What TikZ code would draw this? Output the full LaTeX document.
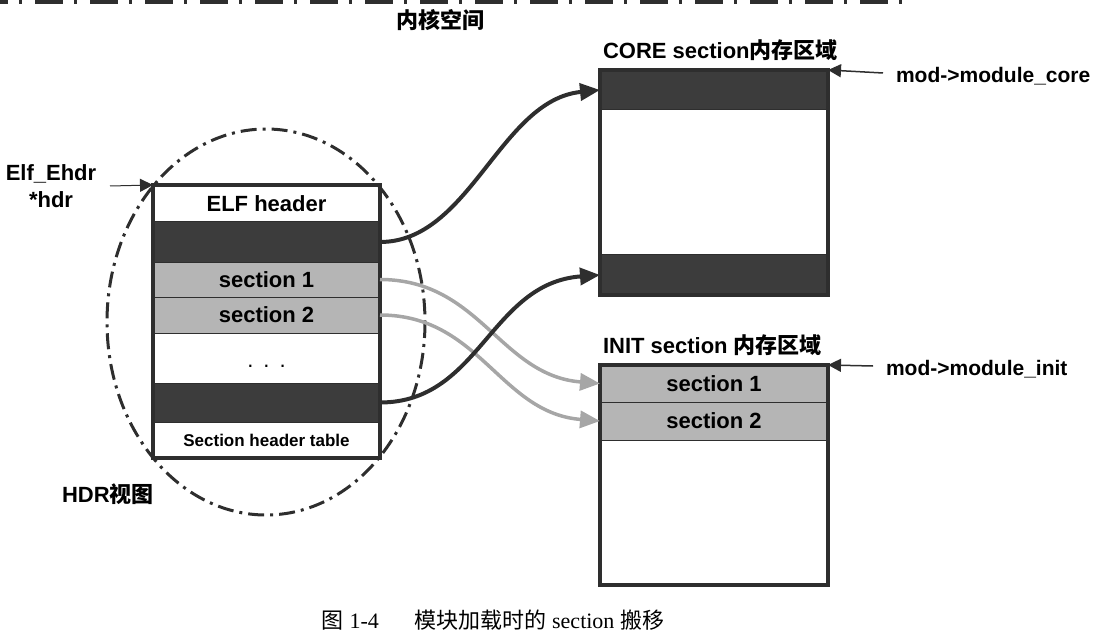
\documentclass[tikz,border=0pt]{standalone}
\usepackage{fontspec}
\setmainfont{Liberation Sans}
\newfontfamily\cjk{Noto Sans CJK SC}
\newfontfamily\capfont{Liberation Serif}
\usetikzlibrary{positioning,arrows.meta}
\definecolor{darkband}{HTML}{3C3C3C}
\definecolor{lightband}{HTML}{B5B5B5}
\definecolor{edgegray}{HTML}{2E2E2E}
\definecolor{movegray}{HTML}{A6A6A6}

\begin{document}
\begin{tikzpicture}[x=1pt, y=-1pt, >={Triangle[length=20pt,width=17pt]}, line width=1pt,
                    node distance=0pt, style={inner sep=0pt, outer sep=0pt}]
\tikzstyle{every node}=[font=\fontsize{22}{27}\selectfont\bfseries]
\tikzstyle{hdrrow}=[draw=edgegray, fill=white, minimum width=227pt]
\tikzstyle{darkrow}=[hdrrow, fill=darkband]
\tikzstyle{greyrow}=[hdrrow, fill=lightband]
\tikzstyle{boxframe}=[draw=edgegray, line width=4pt]
\tikzstyle{movearrow}=[->, line width=4pt, draw=edgegray]
\tikzstyle{copyarrow}=[->, line width=3.5pt, draw=movegray]
\tikzstyle{ptrarrow}=[->, >={Triangle[length=13pt,width=13pt]}, line width=1.5pt, draw=edgegray]
\tikzstyle{ptrlabel}=[anchor=base west, font=\fontsize{21}{25}\selectfont\bfseries]
\tikzstyle{hdrring}=[draw=edgegray, line width=3pt, dash pattern=on 16pt off 6pt on 3pt off 6pt]
\useasboundingbox (0,0) rectangle (1102,644);

% kernel space border
\draw [line width=7pt, draw=edgegray, dash pattern=on 28pt off 11pt on 3pt off 13pt] (-20,1) -- (905,1);
\node (kspace) at (440,20) {\cjk 内核空间};

% HDR view
\node [hdrrow, minimum height=37pt] (elf) at (266.5,203.5) {ELF header};
\node [darkrow, minimum height=40pt] (secA) [below=of elf] {};
\node [greyrow, minimum height=35pt] (sec1) [below=of secA] {section 1};
\node [greyrow, minimum height=36pt] (sec2) [below=of sec1] {section 2};
\node [hdrrow, minimum height=50pt, font=\fontsize{22}{27}\selectfont] (dots) [below=of sec2] {\raisebox{-9pt}[0pt][0pt]{.\hspace{10pt}.\hspace{10pt}.}};
\node [darkrow, minimum height=39pt] (secB) [below=of dots] {};
\node [hdrrow, minimum height=36pt, font=\fontsize{17}{20}\selectfont\bfseries] (sht) [below=of secB] {Section header table};
\draw [boxframe] (elf.north west) rectangle (sht.south east);
\draw [hdrring] (266,322) ellipse [x radius=159, y radius=193];

\node [align=center] (ehdr) at (51,186) {Elf\_Ehdr\\*hdr};
\coordinate (hdrptr) at (110,186);
\draw [ptrarrow, line width=1pt] (hdrptr) -- (elf.north west);
\node [anchor=base west] (hdrview) at (62,502) {HDR{\cjk 视图}};

% CORE section
\node [darkrow, minimum width=228pt, minimum height=40pt] (coreA) at (714,90) {};
\node [hdrrow, minimum width=228pt, minimum height=145pt] (coreM) [below=of coreA] {};
\node [darkrow, minimum width=228pt, minimum height=40pt] (coreB) [below=of coreM] {};
\draw [boxframe] (coreA.north west) rectangle (coreB.south east);
\node [anchor=base west] (coretitle) at (603,59) {CORE section{\cjk 内存区域}};
\node [ptrlabel] (modcore) at (896,83) {mod->module\_core};
\coordinate (coreptr) at (883,73);
\draw [ptrarrow] (coreptr) -- (coreA.north east);

% INIT section
\node [greyrow, minimum width=228pt, minimum height=37pt] (init1) at (714,383.5) {section 1};
\node [greyrow, minimum width=228pt, minimum height=38pt] (init2) [below=of init1] {section 2};
\node [hdrrow, minimum width=228pt, minimum height=145pt] (initM) [below=of init2] {};
\draw [boxframe] (init1.north west) rectangle (initM.south east);
\node [anchor=base west] (inittitle) at (603,353) {INIT section {\cjk 内存区域}};
\node [ptrlabel] (modinit) at (886,375) {mod->module\_init};
\coordinate (initptr) at (873,366);
\draw [ptrarrow] (initptr) -- (init1.north east);

% moving the sections
\draw [copyarrow] (sec1.east) .. controls +(100,0) and +(-100,-8) .. (init1.west);
\draw [copyarrow] (sec2.east) .. controls +(100,0) and +(-100,-8) .. (init2.west);
\draw [movearrow] (secA.east) .. controls +(90,0) and +(-100,10) .. (coreA.west);
\draw [movearrow] (secB.east) .. controls +(100,0) and +(-110,8) .. (coreB.west);

\node [font=\fontsize{22}{26}\selectfont] (caption) at (493,620) {{\cjk 图} {\capfont 1-4}\hspace{1.6em}{\cjk 模块加载时的} {\capfont section} {\cjk 搬移}};
\end{tikzpicture}
\end{document}
